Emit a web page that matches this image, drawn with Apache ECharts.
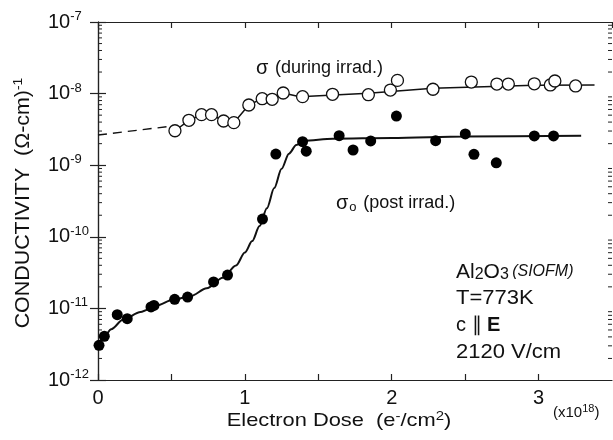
<!DOCTYPE html>
<html><head><meta charset="utf-8">
<script src="https://cdn.jsdelivr.net/npm/echarts@6/dist/echarts.min.js"></script>
<style>html,body{margin:0;padding:0;background:#fff}#c{width:613px;height:440px}</style>
</head><body><div id="c"></div>
<script>
// ---- data (x in units of 1e18 e-/cm^2, y conductivity in (ohm-cm)^-1) ----
const duringX = [0.524,0.619,0.705,0.773,0.855,0.925,1.027,1.118,1.186,1.261,1.393,1.597,1.841,1.991,2.039,2.281,2.542,2.716,2.794,2.971,3.080,3.111,3.252];
const duringY = [3.03e-9,4.24e-9,5.08e-9,5.08e-9,4.14e-9,3.93e-9,6.93e-9,8.49e-9,8.32e-9,1.02e-8,9.06e-9,9.77e-9,9.66e-9,1.12e-8,1.53e-8,1.15e-8,1.45e-8,1.36e-8,1.36e-8,1.37e-8,1.32e-8,1.50e-8,1.28e-8];
const duringFitX = [0.524,0.619,0.705,0.773,0.855,0.925,1.027,1.118,1.186,1.261,1.374,1.841,2.281,2.971,3.381];
const duringFitY = [3.03e-9,4.24e-9,5.08e-9,5.08e-9,4.14e-9,3.93e-9,6.93e-9,8.49e-9,8.32e-9,1.02e-8,9.06e-9,1.01e-8,1.19e-8,1.31e-8,1.32e-8];
const duringExtrapX = [0, 0.47];
const duringExtrapY = [2.64e-9, 3.45e-9];
const postX = [0.007,0.043,0.131,0.199,0.361,0.381,0.522,0.610,0.787,0.882,1.120,1.211,1.393,1.418,1.642,1.737,1.857,2.032,2.299,2.501,2.560,2.712,2.971,3.102];
const postY = [3.05e-12,4.07e-12,8.17e-12,7.18e-12,1.05e-11,1.10e-11,1.34e-11,1.44e-11,2.34e-11,2.92e-11,1.77e-10,1.43e-9,2.13e-9,1.57e-9,2.58e-9,1.63e-9,2.18e-9,4.86e-9,2.20e-9,2.73e-9,1.42e-9,1.08e-9,2.56e-9,2.56e-9];
const postFitX = [0,0.04,0.09,0.17,0.29,0.40,0.51,0.63,0.74,0.85,0.94,1.00,1.05,1.10,1.15,1.20,1.25,1.30,1.35,1.40,1.60,2.0,2.5,3.29];
const postFitY = [2.95e-12,3.98e-12,5.13e-12,6.92e-12,8.91e-12,1.10e-11,1.32e-11,1.48e-11,1.91e-11,2.69e-11,3.98e-11,6.03e-11,8.71e-11,1.41e-10,2.51e-10,4.79e-10,8.91e-10,1.45e-9,1.91e-9,2.19e-9,2.34e-9,2.40e-9,2.51e-9,2.57e-9];
const xTickLabels = ['0','1','2','3'];
const yDecades = [1e-12,1e-11,1e-10,1e-9,1e-8,1e-7];
const minorMult = [2,3,4,5,6,7,8,9];

const FONT = '"Liberation Sans", Arial, Helvetica, sans-serif';
const pairs = (xs, ys) => xs.map((x, i) => [x, ys[i]]);
const minorVals = [];
yDecades.slice(0, -1).forEach(d => minorMult.forEach(m => minorVals.push([0, m * d])));

const chart = echarts.init(document.getElementById('c'), null, {renderer: 'canvas'});
const axisCol = '#222';
const xBase = {
  type: 'value', min: 0, max: 3.5, interval: 0.5,
  axisLine: {show: true, onZero: false, lineStyle: {color: axisCol, width: 1.2}},
  axisTick: {show: true, inside: true, length: 6, lineStyle: {color: axisCol, width: 1.2}},
  splitLine: {show: false}
};
const yBase = {
  type: 'log', logBase: 10, min: yDecades[0], max: yDecades[yDecades.length - 1],
  axisLine: {show: true, lineStyle: {color: axisCol, width: 1.2}},
  axisTick: {show: true, inside: true, length: 8, lineStyle: {color: axisCol, width: 1.2}},
  splitLine: {show: false}
};
chart.setOption({
  animation: false,
  backgroundColor: '#fff',
  grid: {left: 98, right: 1, top: 22, bottom: 60},
  xAxis: [
    Object.assign({}, xBase, {position: 'bottom',
      axisLabel: {show: true, margin: 8, fontSize: 20, color: '#111', fontFamily: FONT,
        showMaxLabel: false,
        formatter: v => (Math.abs(v - Math.round(v)) < 1e-9 && xTickLabels.includes(String(Math.round(v)))) ? String(Math.round(v)) : ''}}),
    Object.assign({}, xBase, {position: 'top', axisLabel: {show: false}})
  ],
  yAxis: [
    Object.assign({}, yBase, {position: 'left',
      axisLabel: {show: true, align: 'left', margin: 50, fontFamily: FONT, color: '#111',
        formatter: v => '{b|10}{s|' + Math.round(Math.log10(v)) + '}',
        rich: {b: {fontSize: 20, lineHeight: 24, fontFamily: FONT, color: '#111'},
               s: {fontSize: 13, lineHeight: 13, verticalAlign: 'top', fontFamily: FONT, color: '#111'}}}}),
    Object.assign({}, yBase, {position: 'right', axisLabel: {show: false}})
  ],
  series: [
    {type: 'line', data: pairs(duringExtrapX, duringExtrapY), symbol: 'none', z: 2,
     lineStyle: {color: '#111', width: 1.4, type: [9, 6]}},
    {type: 'line', data: pairs(duringFitX, duringFitY), symbol: 'none', z: 2,
     lineStyle: {color: '#111', width: 1.5}},
    {type: 'line', data: pairs(postFitX, postFitY), symbol: 'none', smooth: 0.3, smoothMonotone: 'x', z: 2,
     lineStyle: {color: '#111', width: 2}},
    {type: 'scatter', data: pairs(duringX, duringY), symbol: 'circle', symbolSize: 12, z: 5,
     itemStyle: {color: '#fff', borderColor: '#111', borderWidth: 1.3, opacity: 1}},
    {type: 'scatter', data: pairs(postX, postY), symbol: 'circle', symbolSize: 11, z: 5,
     itemStyle: {color: '#000', opacity: 1}},
    {type: 'custom', data: minorVals, z: 3, silent: true, clip: false,
     renderItem: function (params, api) {
       const cs = params.coordSys;
       const y = api.coord([0, api.value(1)])[1];
       const st = {stroke: axisCol, lineWidth: 1};
       return {type: 'group', children: [
         {type: 'line', shape: {x1: cs.x, y1: y, x2: cs.x + 4, y2: y}, style: st},
         {type: 'line', shape: {x1: cs.x + cs.width - 4, y1: y, x2: cs.x + cs.width, y2: y}, style: st}
       ]};
     }}
  ],
  graphic: [
    {type: 'text', x: 256, y: 68, style: {
      text: '{g|σ}  {t|(during irrad.)}', verticalAlign: 'middle', fontFamily: FONT,
      rich: {g: {fontSize: 20, lineHeight: 22, fontFamily: FONT, fill: '#111'}, t: {fontSize: 18, lineHeight: 22, fontFamily: FONT, fill: '#111'}}}},
    {type: 'text', x: 336, y: 203, style: {
      text: '{g|σ}{sub|o}  {t|(post irrad.)}', verticalAlign: 'middle', fontFamily: FONT,
      rich: {g: {fontSize: 20, lineHeight: 22, fontFamily: FONT, fill: '#111'},
             sub: {fontSize: 13, lineHeight: 10, verticalAlign: 'bottom', fontFamily: FONT, fill: '#111', padding: [0, 0, 0, 1]},
             t: {fontSize: 18, lineHeight: 22, fontFamily: FONT, fill: '#111'}}}},
    {type: 'text', x: 456, y: 272, style: {
      text: '{a|Al}{sub|2}{a|O}{sub|3} {i|(SIOFM)}', verticalAlign: 'middle', fontFamily: FONT,
      rich: {a: {fontSize: 21, lineHeight: 22, fontFamily: FONT, fill: '#111'},
             sub: {fontSize: 16, lineHeight: 13, verticalAlign: 'bottom', fontFamily: FONT, fill: '#111'},
             i: {fontSize: 16, lineHeight: 22, fontStyle: 'italic', fontFamily: FONT, fill: '#111'}}}},
    {type: 'text', x: 456, y: 298, scaleX: 1.1, style: {text: 'T=773K', fontSize: 20, fontFamily: FONT, fill: '#111', verticalAlign: 'middle'}},
    {type: 'text', x: 456, y: 325, style: {text: 'c ∥ {b|E}', fontSize: 20, fontFamily: FONT, fill: '#111', verticalAlign: 'middle',
      rich: {b: {fontSize: 20, fontWeight: 'bold', fontFamily: FONT, fill: '#111'}}}},
    {type: 'text', x: 456, y: 352, scaleX: 1.1, style: {text: '2120 V/cm', fontSize: 20, fontFamily: FONT, fill: '#111', verticalAlign: 'middle'}},
    {type: 'text', x: 553, y: 413, style: {
      text: '{t|(x10}{s|18}{t|)}', verticalAlign: 'middle', fontFamily: FONT,
      rich: {t: {fontSize: 15, lineHeight: 19, fontFamily: FONT, fill: '#111'},
             s: {fontSize: 11, lineHeight: 11, verticalAlign: 'top', fontFamily: FONT, fill: '#111'}}}},
    {type: 'text', x: 339, y: 421, scaleX: 1.15, style: {
      text: '{t|Electron Dose  (e}{s|-}{t|/cm}{s|2}{t|)}', align: 'center', verticalAlign: 'middle', fontFamily: FONT,
      rich: {t: {fontSize: 19, lineHeight: 22, fontFamily: FONT, fill: '#111'},
             s: {fontSize: 13, lineHeight: 13, verticalAlign: 'top', fontFamily: FONT, fill: '#111'}}}},
    {type: 'text', x: 23, y: 203, rotation: Math.PI / 2, scaleX: 1.07, style: {
      text: '{t|CONDUCTIVITY  (Ω-cm)}{s|-1}', align: 'center', verticalAlign: 'middle', fontFamily: FONT,
      rich: {t: {fontSize: 20, lineHeight: 22, fontFamily: FONT, fill: '#111'},
             s: {fontSize: 13, lineHeight: 13, verticalAlign: 'top', fontFamily: FONT, fill: '#111'}}}}
  ]
});
</script></body></html>
